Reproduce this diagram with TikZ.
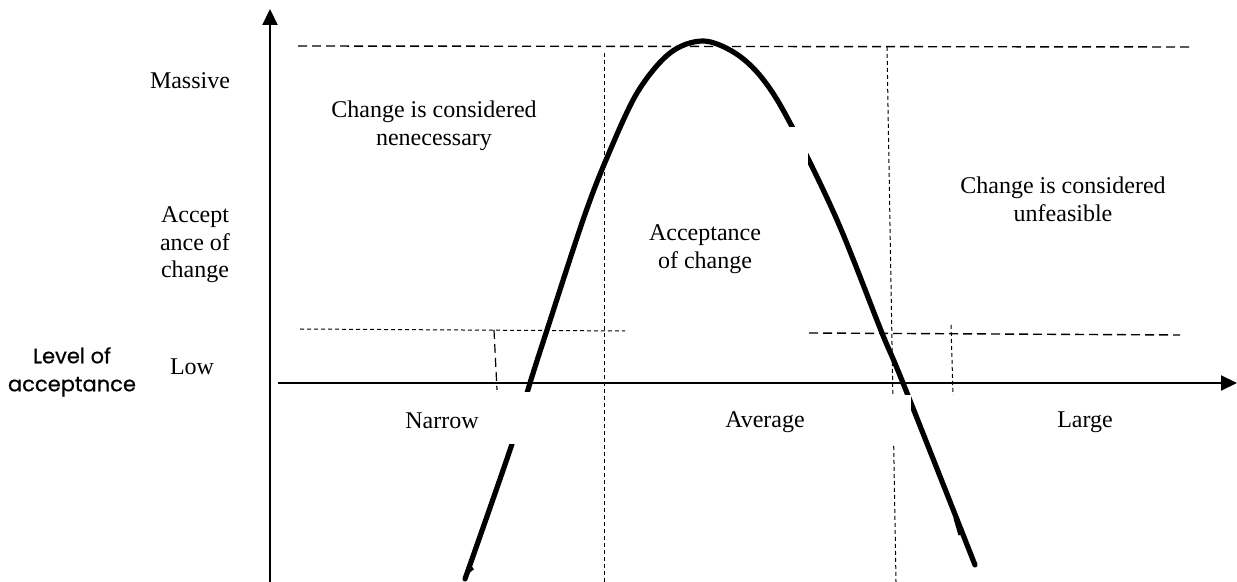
\documentclass[tikz,border=0pt]{standalone}
\usepackage{fontspec}
\setmainfont{Liberation Serif}
\newfontfamily\labelfont[FakeBold=0.6]{Poppins}
\usetikzlibrary{arrows.meta}
\begin{document}
\begin{tikzpicture}[x=0.5pt,y=-0.5pt,
  axis/.style={line width=1pt,-{Triangle[length=8pt,width=7.5pt]}},
  dashbig/.style={line width=0.7pt,dash pattern=on 4.5pt off 2.5pt},
  dashfine/.style={line width=0.5pt,dash pattern=on 2pt off 1.5pt},
  curveline/.style={line width=2.6pt,line cap=round},
  cover/.style={fill=white,draw=none},
  lbl/.style={font=\fontsize{12}{13.8}\selectfont,align=center,inner sep=0pt}]
\useasboundingbox (0,0) rectangle (1237,582);
% axes
\coordinate (yb) at (270,582);
\coordinate (yt) at (270,9);
\coordinate (xl) at (278,383);
\coordinate (xr) at (1237,383);
\draw[axis] (yb) -- (yt);
\draw[axis] (xl) -- (xr);
% dashed guide lines
\coordinate (t1) at (298,46); \coordinate (t2) at (1190,47);
\draw[dashbig] (t1) -- (t2);
\coordinate (l1) at (300,329); \coordinate (l2) at (625,331);
\draw[dashfine] (l1) -- (l2);
\coordinate (r1) at (809,333); \coordinate (r2) at (1180,335);
\draw[dashbig] (r1) -- (r2);
\coordinate (s1) at (494,330); \coordinate (s2) at (497,390);
\draw[dashbig,line width=0.6pt] (s1) -- (s2);
\coordinate (s3) at (951,325); \coordinate (s4) at (953,395);
\draw[dashfine] (s3) -- (s4);
\coordinate (v1) at (604,53); \coordinate (v2) at (604,582);
\draw[dashfine] (v1) -- (v2);
\coordinate (w1) at (887,47); \coordinate (w2) at (896,582);
\draw[dashfine] (w1) -- (w2);
% curve
\draw[curveline] plot[smooth,tension=0.55] coordinates {
 (465,579) (512,444) (530,383) (547,330) (583,220) (606,160) (637,93)
 (670,53) (703,41) (735,53) (762,78) (789,121) (837,220) (882,333)
 (903,383) (975,565)};
\draw[line width=1.6pt] (468,572) -- (473,568);
\draw[line width=1.6pt] (955,518) -- (960,535);
% text boxes covering the curve
\fill[cover] (650,127) rectangle (808,290);
\fill[cover] (380,392) rectangle (540,444);
\fill[cover] (640,395) rectangle (911,445);
% labels
\node[lbl] (massive) at (190,81) {Massive};
\node[lbl] (accy) at (195,245) {Accept\\ance of\\change};
\node[lbl] (low) at (192,367) {Low};
\node[lbl,font=\labelfont\fontsize{10.5}{14}\selectfont] (level) at (72,372) {Level of\\acceptance};
\node[lbl] (nec) at (434,126) {Change is considered\\nenecessary};
\node[lbl] (acc) at (705,249) {Acceptance\\of change};
\node[lbl] (unf) at (1063,199) {Change is considered\\unfeasible};
\node[lbl] (narrow) at (442,421) {Narrow};
\node[lbl] (avg) at (765,422) {Average};
\node[lbl] (large) at (1085,422) {Large};
\end{tikzpicture}
\end{document}
